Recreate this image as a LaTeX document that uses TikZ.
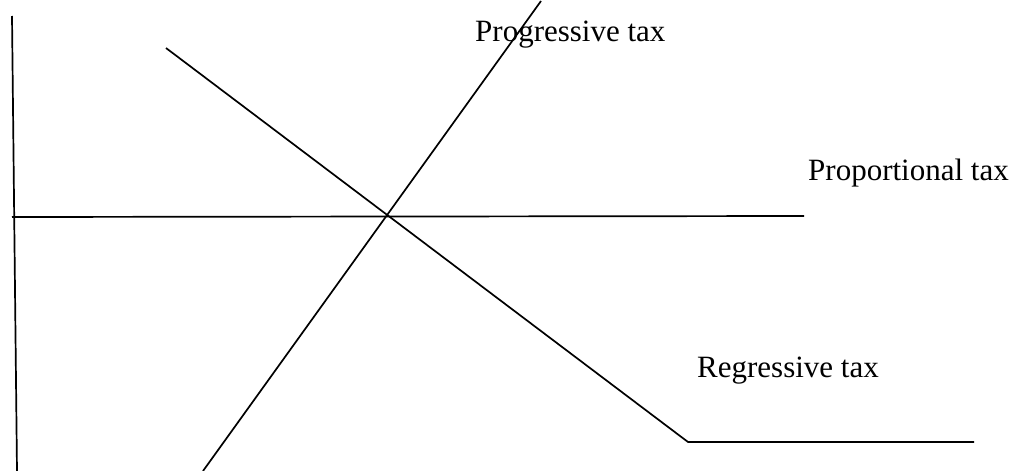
\documentclass[tikz,border=0pt]{standalone}
\usepackage{fontspec}
\setmainfont{Liberation Serif}
\begin{document}
\begin{tikzpicture}[x=1pt,y=-1pt,
  curve/.style={line width=1.7pt,black},
  lbl/.style={anchor=base west,inner sep=0pt,font=\fontsize{31}{36}\selectfont}]
\useasboundingbox (0,0) rectangle (1015,471);
% axis
\coordinate (axtop) at (12,16);
\coordinate (axbot) at (17,471);
\draw[curve] (axtop) -- (axbot);
% proportional
\coordinate (propL) at (12,217);
\coordinate (propR) at (804,216);
\draw[curve] (propL) -- (propR);
% progressive
\coordinate (progB) at (203,471);
\coordinate (progT) at (541,1);
\draw[curve] (progB) -- (progT);
% regressive
\coordinate (regT) at (166,48);
\coordinate (regC) at (688,442);
\coordinate (regE) at (974,442);
\draw[curve] (regT) -- (regC) -- (regE);
% labels
\node[lbl] (lprog) at (475,41) {Progressive tax};
\node[lbl] (lprop) at (808,180) {Proportional tax};
\node[lbl] (lreg) at (697,377) {Regressive tax};
\end{tikzpicture}
\end{document}
